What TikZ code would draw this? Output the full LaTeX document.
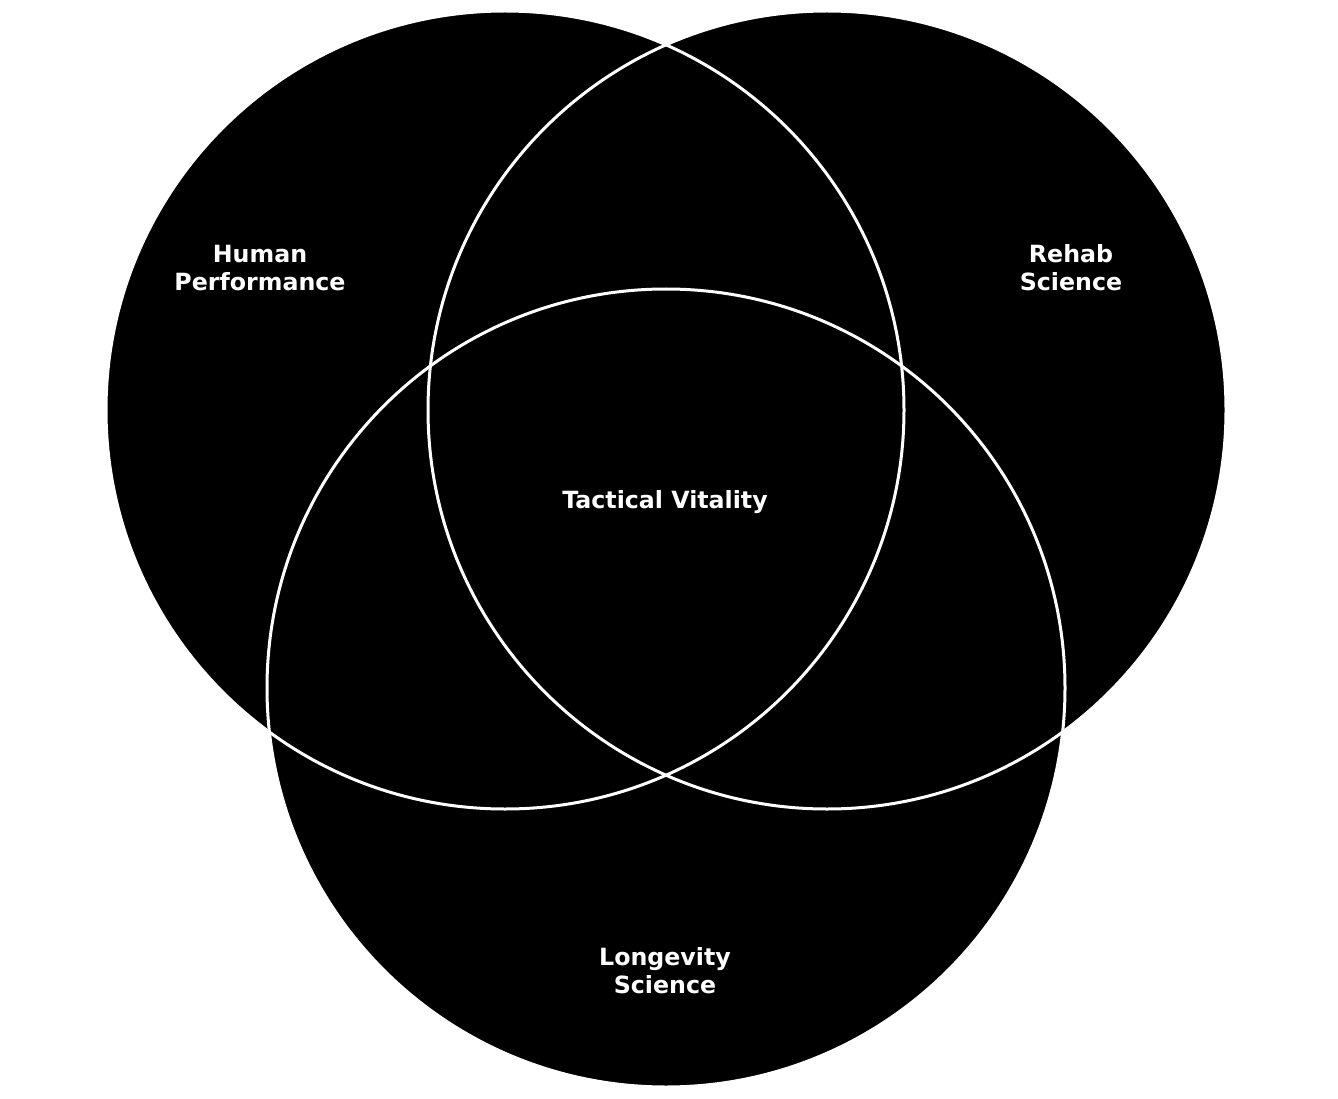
\documentclass[tikz,border=0pt]{standalone}
\usepackage{fontspec}
\setmainfont{DejaVu Sans}
\usetikzlibrary{positioning}

\tikzset{
  vennfill/.style={fill=black},
  vennline/.style={draw=white, line width=3pt},
  venntext/.style={text=white, align=center, font=\bfseries\fontsize{23.7}{28}\selectfont}
}

\begin{document}
\begin{tikzpicture}[x=1pt,y=-1pt]
  \useasboundingbox (0,0) rectangle (1338,1099);
  % centres of the three sets
  \coordinate (hp) at (505,410);
  \coordinate (rs) at (827,410);
  \coordinate (ls) at (666,688);
  \foreach \c in {hp,rs,ls}
    \fill[vennfill] (\c) circle (399);
  \foreach \c in {hp,rs,ls}
    \draw[vennline] (\c) circle (399);
  % labels
  \node[venntext] (hplabel) at (260,268) {Human\\Performance};
  \node[venntext] (rslabel) at (1071,268) {Rehab\\Science};
  \node[venntext] (tvlabel) at (665,502) {Tactical Vitality};
  \node[venntext] (lslabel) at (665,971) {Longevity\\Science};
\end{tikzpicture}
\end{document}
